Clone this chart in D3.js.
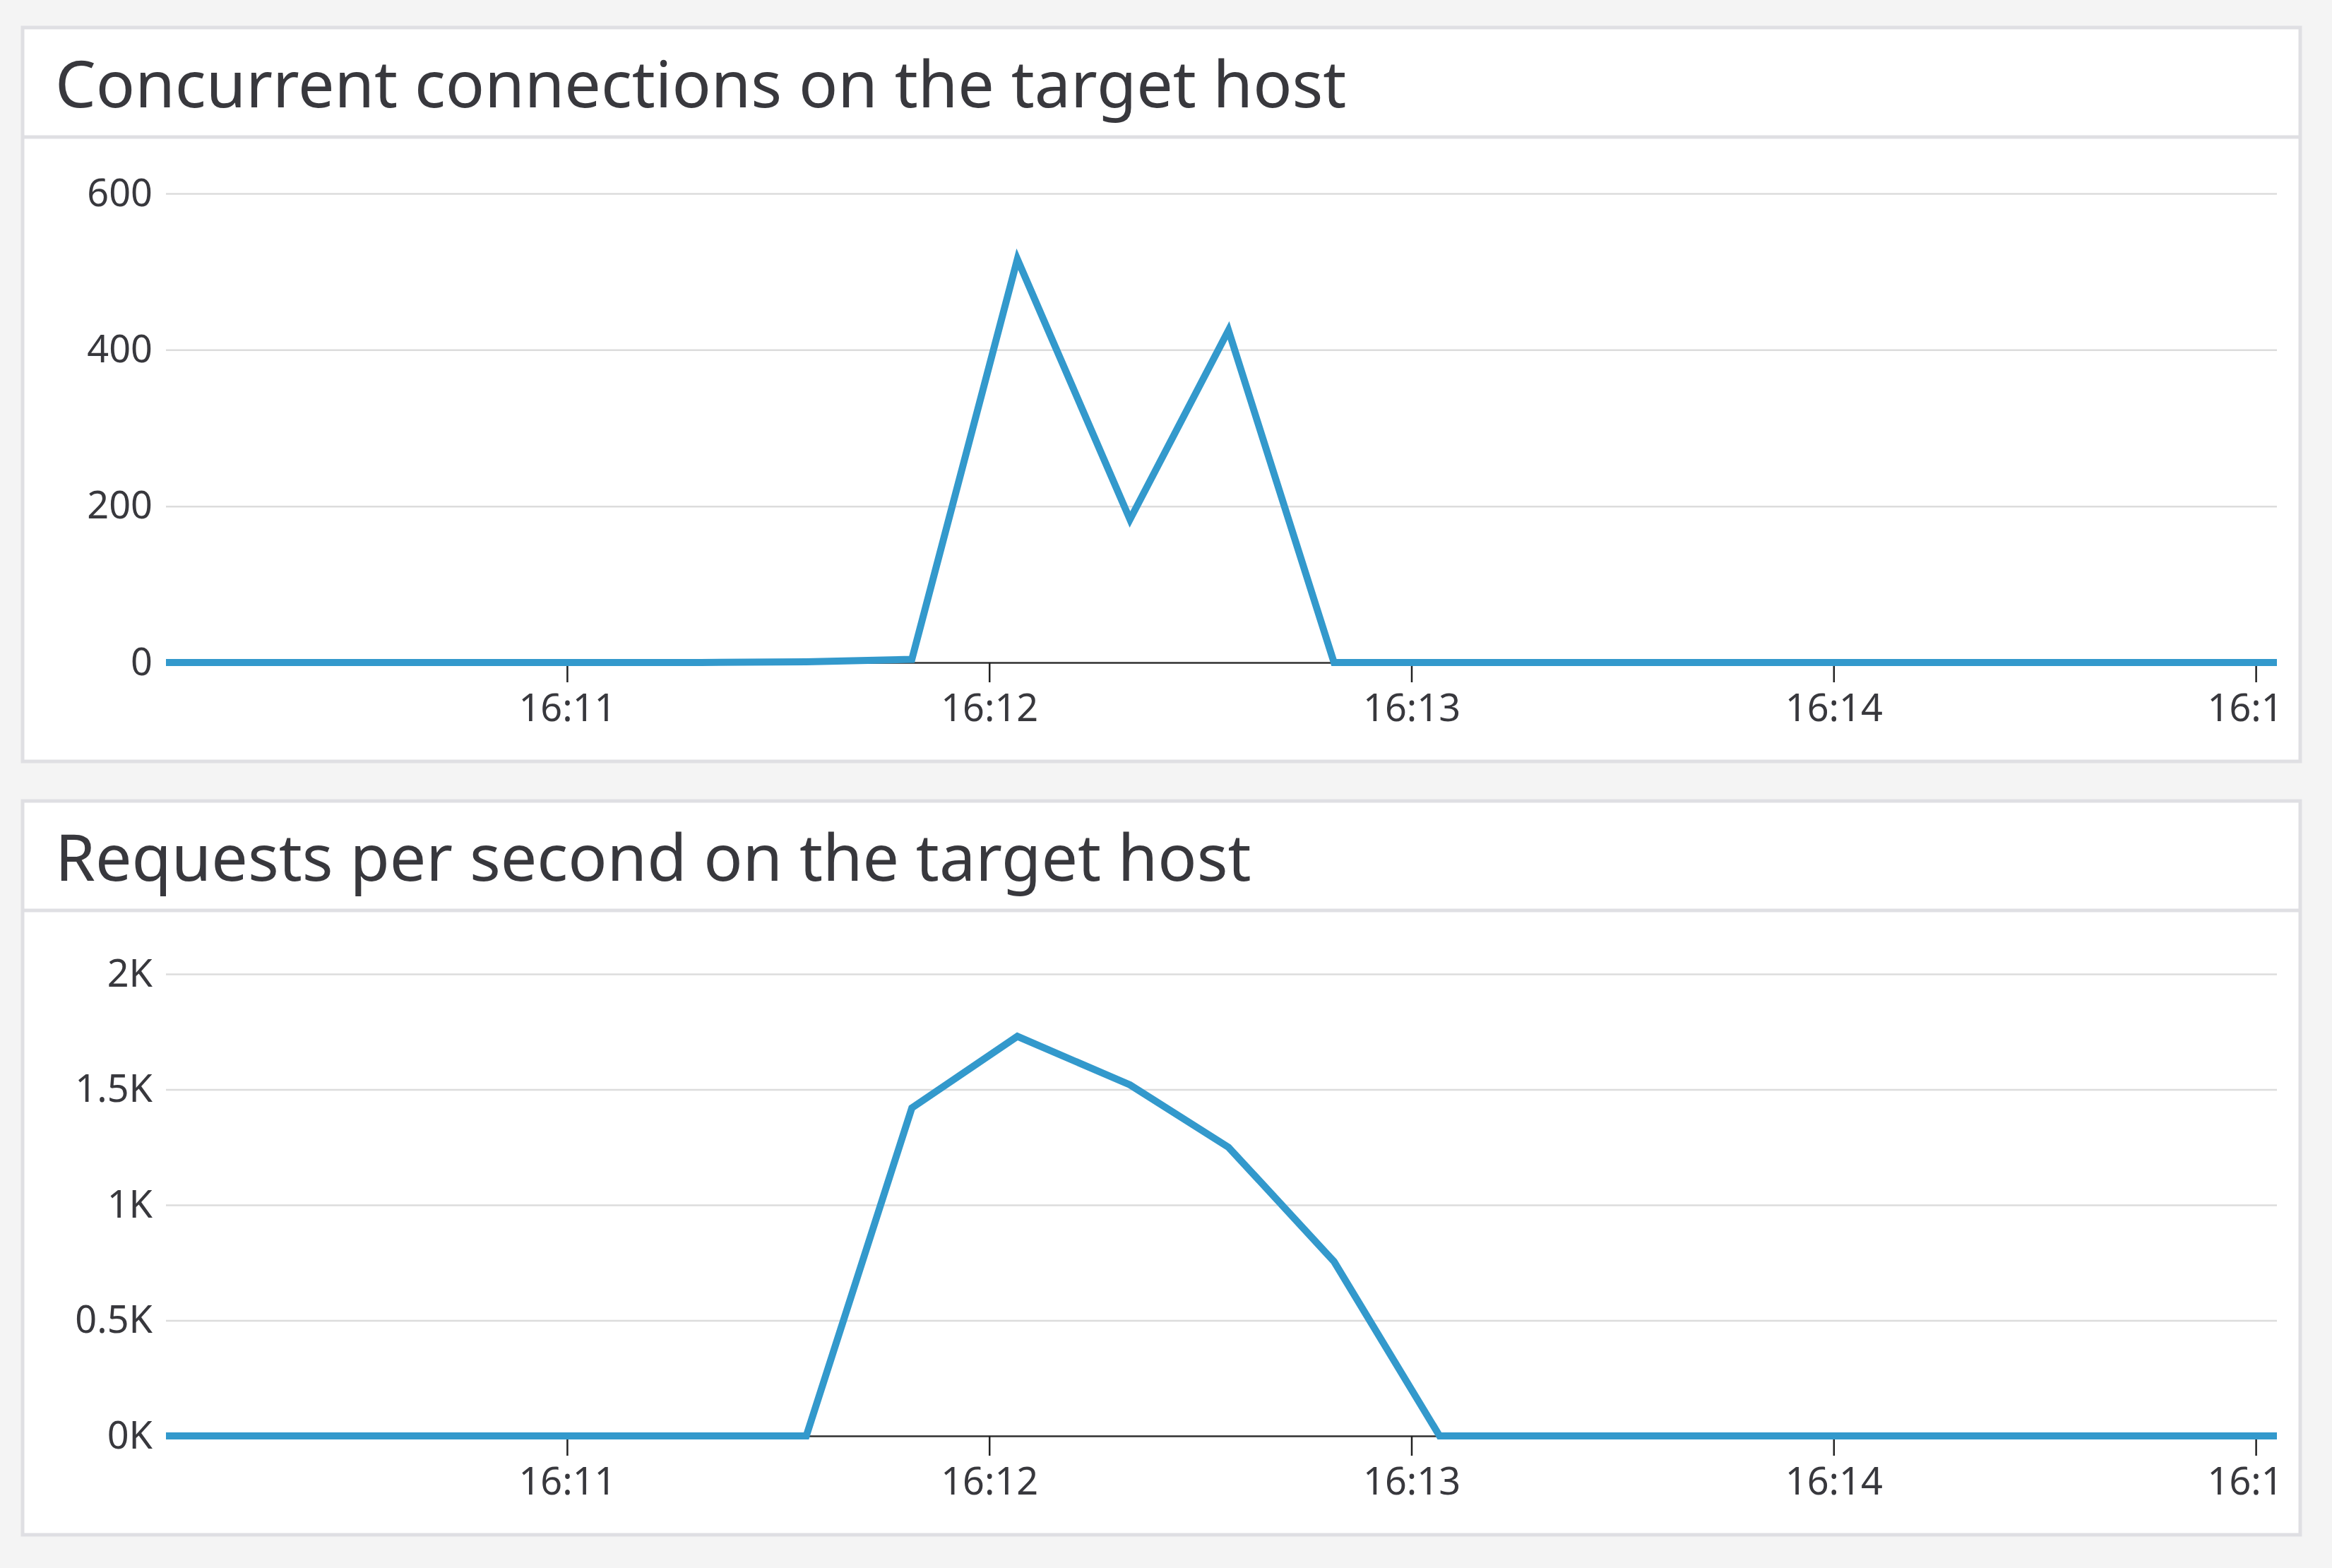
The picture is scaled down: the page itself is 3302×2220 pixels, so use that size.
<!DOCTYPE html>
<html>
<head>
<meta charset="utf-8">
<script src="https://cdn.jsdelivr.net/npm/d3@7"></script>
<style>
  html, body { margin: 0; padding: 0; background: #f4f4f4; }
  svg { display: block; font-family: "Noto Sans", "Open Sans", sans-serif; }
</style>
</head>
<body>
<svg id="chart" width="3302" height="2220"></svg>
<script>
// sample times (~15s buckets), first one falls just before the visible window
const times = [
  '16:09:49', '16:10:04', '16:10:19', '16:10:34', '16:10:49',
  '16:11:04', '16:11:19', '16:11:34', '16:11:49', '16:12:04',
  '16:12:20', '16:12:34', '16:12:49', '16:13:04', '16:13:19',
  '16:13:34', '16:13:49', '16:14:04', '16:14:19', '16:14:34',
  '16:14:49', '16:15:04'
]
const connections = [0, 0, 0, 0, 0, 0, 0, 1, 4, 516, 183, 425, 0, 0, 0, 0, 0, 0, 0, 0, 0, 0]
const requests = [0, 0, 0, 0, 0, 0, 0, 0, 1420, 1730, 1520, 1250, 755, 0, 0, 0, 0, 0, 0, 0, 0, 0]

const connTicks = [0, 200, 400, 600]
const connTickLabels = ['0', '200', '400', '600']
const reqTicks = [0, 500, 1000, 1500, 2000]
const reqTickLabels = ['0K', '0.5K', '1K', '1.5K', '2K']

const titles = ['Concurrent connections on the target host', 'Requests per second on the target host']
const timeWindow = ['16:10:03', '16:15:03']

const parseTime = d3.timeParse('%H:%M:%S')
const svg = d3.select('#chart')

const panelX = 32
const panelW = 3225
const panelH = 1039
const plotLeft = 235
const plotRight = 3224
const lineColor = '#3399cc'
const textColor = '#38383d'

const x = d3.scaleTime()
  .domain(timeWindow.map(parseTime))
  .range([plotLeft, plotRight])

function drawPanel (id, top, title, values, ticks, tickLabels, yTop) {
  const g = svg.append('g').attr('transform', `translate(0,${top})`)
  const yZero = 899

  // card
  g.append('rect')
    .attr('x', panelX)
    .attr('y', 0)
    .attr('width', panelW)
    .attr('height', panelH)
    .attr('fill', '#fff')
    .attr('stroke', '#dfdfe3')
    .attr('stroke-width', 5)

  g.append('line')
    .attr('x1', panelX)
    .attr('x2', panelX + panelW)
    .attr('y1', 155)
    .attr('y2', 155)
    .attr('stroke', '#dfdfe3')
    .attr('stroke-width', 5)

  g.append('text')
    .attr('x', 78)
    .attr('y', 113)
    .attr('fill', textColor)
    .style('font-size', '91.5px')
    .text(title)

  const y = d3.scaleLinear()
    .domain([ticks[0], ticks[ticks.length - 1]])
    .range([yZero, yTop])

  // grid + y labels
  const yAxis = g.append('g')
    .attr('transform', `translate(${plotLeft},0)`)
    .call(d3.axisLeft(y)
      .tickValues(ticks)
      .tickFormat((d, i) => tickLabels[i])
      .tickSize(-(plotRight - plotLeft))
      .tickPadding(19))
  yAxis.select('.domain').remove()
  yAxis.selectAll('.tick line')
    .attr('stroke', '#dcdcdc')
    .attr('stroke-width', 2.5)
  yAxis.selectAll('.tick text')
    .attr('fill', textColor)
    .style('font-size', '54px')
    .style('font-family', '"Noto Sans", sans-serif')

  // clip for x labels (last label gets cut at the plot edge)
  // coords are local to the axis group, which sits at yZero
  g.append('clipPath')
    .attr('id', `xclip-${id}`)
    .append('rect')
    .attr('x', 0)
    .attr('y', -10)
    .attr('width', plotRight)
    .attr('height', 140)

  const xAxis = g.append('g')
    .attr('transform', `translate(0,${yZero})`)
    .attr('clip-path', `url(#xclip-${id})`)
    .call(d3.axisBottom(x)
      .ticks(d3.timeMinute.every(1))
      .tickFormat(d3.timeFormat('%H:%M'))
      .tickSize(28)
      .tickSizeOuter(0)
      .tickPadding(17))
  xAxis.select('.domain')
    .attr('stroke', '#333')
    .attr('stroke-width', 2.5)
  xAxis.selectAll('.tick line')
    .attr('stroke', '#222')
    .attr('stroke-width', 2.5)
  xAxis.selectAll('.tick text')
    .attr('fill', textColor)
    .style('font-size', '54px')
    .style('font-family', '"Noto Sans", sans-serif')

  // series
  g.append('clipPath')
    .attr('id', `plotclip-${id}`)
    .append('rect')
    .attr('x', plotLeft)
    .attr('y', yTop - 40)
    .attr('width', plotRight - plotLeft)
    .attr('height', yZero - yTop + 50)

  const line = d3.line()
    .x((d, i) => x(parseTime(times[i])))
    .y(d => y(d))

  g.append('path')
    .datum(values)
    .attr('clip-path', `url(#plotclip-${id})`)
    .attr('d', line)
    .attr('fill', 'none')
    .attr('stroke', lineColor)
    .attr('stroke-width', 10)
    .attr('stroke-linejoin', 'miter')
}

drawPanel('conn', 39, titles[0], connections, connTicks, connTickLabels, 235)
drawPanel('req', 1134, titles[1], requests, reqTicks, reqTickLabels, 245)
</script>
</body>
</html>
